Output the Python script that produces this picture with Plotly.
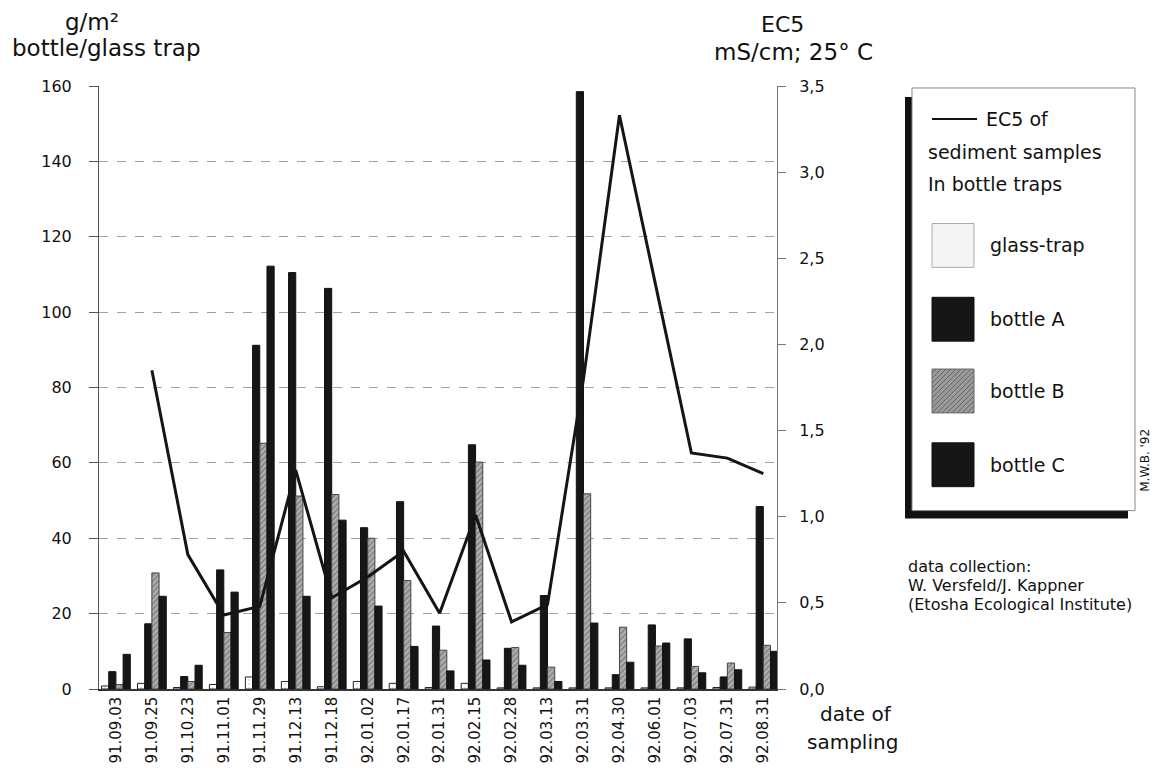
import plotly.graph_objects as go

dates = ["91.09.03", "91.09.25", "91.10.23", "91.11.01", "91.11.29", "91.12.13",
         "91.12.18", "92.01.02", "92.01.17", "92.01.31", "92.02.15", "92.02.28",
         "92.03.13", "92.03.31", "92.04.30", "92.06.01", "92.07.03", "92.07.31",
         "92.08.31"]
glass_trap = [0.8, 1.5, 0.4, 1.2, 3.2, 2.0, 0.6, 2.0, 1.5, 0.4, 1.5, 0.3, 0.3, 0.3, 0.3, 0.3, 0.3, 0.4, 0.5]
bottle_a = [4.6, 17.3, 3.3, 31.6, 91.2, 110.5, 106.3, 42.8, 49.7, 16.7, 64.8, 10.8, 24.8, 158.5, 3.8, 17.0, 13.3, 3.2, 48.4]
bottle_b = [1.2, 30.8, 2.0, 15.0, 65.2, 51.2, 51.6, 40.0, 28.8, 10.3, 60.2, 11.0, 5.8, 51.8, 16.4, 11.4, 6.0, 6.9, 11.6]
bottle_c = [9.2, 24.6, 6.3, 25.7, 112.2, 24.6, 44.8, 22.0, 11.3, 4.8, 7.7, 6.3, 2.0, 17.5, 7.1, 12.2, 4.3, 5.1, 10.0]
ec5 = [None, 1.85, 0.78, 0.43, 0.48, 1.27, 0.53, 0.65, 0.80, 0.44, 1.01, 0.39, 0.49, 1.80, 3.33, 2.35, 1.37, 1.34, 1.25]

left_ticks = [0, 20, 40, 60, 80, 100, 120, 140, 160]
right_ticks = [0.0, 0.5, 1.0, 1.5, 2.0, 2.5, 3.0, 3.5]
right_ticktext = ["0,0", "0,5", "1,0", "1,5", "2,0", "2,5", "3,0", "3,5"]

FONT = "DejaVu Sans"
idx = list(range(len(dates)))

OFF = 8
PL, PR, PT, PB = 99, 777, 86, 691

fig = go.Figure()
fig.add_trace(go.Bar(x=idx, y=glass_trap, name="glass-trap",
                     marker=dict(color="white", line=dict(color="#222", width=1),
                                 pattern=dict(shape=".", fgcolor="#bbb", bgcolor="white", size=4))))
fig.add_trace(go.Bar(x=idx, y=bottle_a, name="bottle A",
                     marker=dict(color="#161616", line=dict(color="#111", width=1))))
fig.add_trace(go.Bar(x=idx, y=bottle_b, name="bottle B",
                     marker=dict(color="#9a9a9a", line=dict(color="#444", width=1),
                                 pattern=dict(shape="/", fgcolor="#555", bgcolor="#b0b0b0", size=4, solidity=0.4))))
fig.add_trace(go.Bar(x=idx, y=bottle_c, name="bottle C",
                     marker=dict(color="#161616", line=dict(color="#111", width=1))))
fig.add_trace(go.Scatter(x=idx, y=ec5, name="EC5", yaxis="y2", mode="lines",
                         line=dict(color="#151515", width=3), connectgaps=False))

fig.update_layout(
    width=1159, height=768,
    margin=dict(l=PL - OFF, r=1159 - (PR - OFF), t=PT - OFF, b=768 - (PB - OFF)),
    paper_bgcolor="white", plot_bgcolor="white",
    showlegend=False,
    barmode="group", bargap=0.2, bargroupgap=0.0,
    font=dict(family=FONT, color="#111", size=16),
    xaxis=dict(range=[-0.47, 18.38], tickvals=idx, ticktext=dates, tickangle=-90,
               showgrid=False, zeroline=False, showline=True, linecolor="#333", linewidth=1.5,
               ticks="", tickfont=dict(size=15, family=FONT), fixedrange=True),
    yaxis=dict(range=[0, 160], tickvals=left_ticks, showgrid=True, gridcolor="#a0a0a0",
               griddash="dash", gridwidth=1, zeroline=False, showline=True, linecolor="#555",
               linewidth=1, ticks="outside", ticklen=9, tickcolor="#555", ticklabelstandoff=14,
               tickfont=dict(size=16, family=FONT)),
    yaxis2=dict(range=[0, 3.5], overlaying="y", side="right", tickvals=right_ticks,
                ticktext=right_ticktext, showgrid=False, zeroline=False, showline=True,
                linecolor="#777", linewidth=1, ticks="outside", ticklen=8, tickcolor="#777",
                ticklabelstandoff=10, tickfont=dict(size=16, family=FONT)),
)


def px_x(p):
    return (p - PL) / (PR - PL)


def px_y(p):
    return (PB - p) / (PB - PT)


def text(t, x, y, size, anchor="center", angle=0):
    fig.add_annotation(text=t, xref="paper", yref="paper", x=px_x(x), y=px_y(y),
                       xanchor=anchor, yanchor="middle", showarrow=False, textangle=angle,
                       font=dict(size=size, family=FONT, color="#111"))


# axis titles
text("g/m²", 92, 22, 23)
text("bottle/glass trap", 106, 48, 23)
text("EC5", 782, 24, 22)
text("mS/cm; 25° C", 793, 52, 23)
text("date of", 856, 716, 20)
text("sampling", 852, 744, 20)

# legend box with shadow
fig.add_shape(type="rect", xref="paper", yref="paper", x0=px_x(905), x1=px_x(1128),
              y0=px_y(520), y1=px_y(97), fillcolor="#111", line=dict(width=0), layer="above")
fig.add_shape(type="rect", xref="paper", yref="paper", x0=px_x(912), x1=px_x(1135),
              y0=px_y(512), y1=px_y(88), fillcolor="white", line=dict(color="#888", width=1), layer="above")
fig.add_shape(type="line", xref="paper", yref="paper", x0=px_x(932), x1=px_x(977),
              y0=px_y(119), y1=px_y(119), line=dict(color="#111", width=2), layer="above")
legend_items = [("glass-trap", 246, "#f4f4f4", "#aaa"), ("bottle A", 320, "#161616", "#111"),
                ("bottle B", 392, "#9a9a9a", "#666"), ("bottle C", 466, "#161616", "#111")]
for name, yc, fc, lc in legend_items:
    fig.add_shape(type="rect", xref="paper", yref="paper", x0=px_x(932), x1=px_x(974),
                  y0=px_y(yc + 22), y1=px_y(yc - 22), fillcolor=fc, line=dict(color=lc, width=1),
                  layer="above")
    text(name, 988, yc, 19, anchor="left")
# hatch on bottle B swatch
for k in range(-40, 42, 5):
    xa, ya, xb, yb = 932 + k, 414, 932 + k + 44, 370
    if xa < 932:
        ya -= 932 - xa
        xa = 932
    if xb > 974:
        yb += xb - 974
        xb = 974
    if xa < xb:
        fig.add_shape(type="line", xref="paper", yref="paper", x0=px_x(xa), y0=px_y(ya),
                      x1=px_x(xb), y1=px_y(yb), line=dict(color="#666", width=1), layer="above")

text("EC5 of", 984, 119, 19, anchor="left")
text("sediment samples", 926, 152, 19, anchor="left")
text("In bottle traps", 926, 184, 19, anchor="left")

text("data collection:", 906, 568, 16, anchor="left")
text("W. Versfeld/J. Kappner", 906, 587, 16, anchor="left")
text("(Etosha Ecological Institute)", 906, 606, 16, anchor="left")
text("M.W.B. '92", 1145, 462, 12, angle=-90)

fig.write_html("out.html")
